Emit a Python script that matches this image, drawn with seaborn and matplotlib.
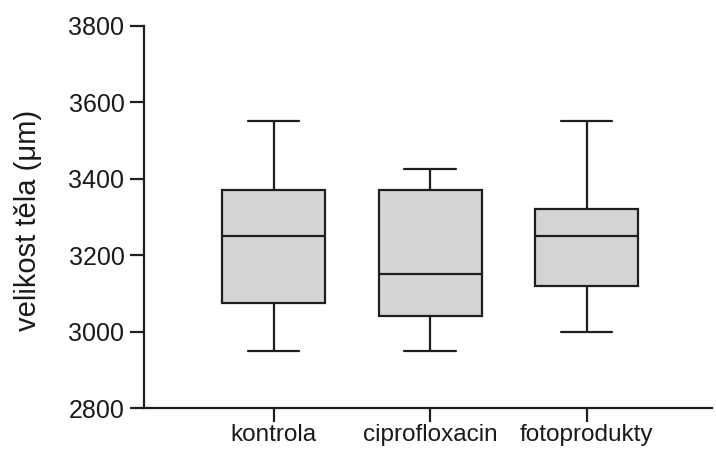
import matplotlib
matplotlib.use("Agg")
import matplotlib.pyplot as plt
import seaborn as sns
import pandas as pd

categories = ["kontrola", "ciprofloxacin", "fotoprodukty"]
# five-number summaries: min, Q1, median, Q3, max
kontrola = [2950, 3075, 3250, 3370, 3550]
ciprofloxacin = [2950, 3040, 3150, 3370, 3425]
fotoprodukty = [3000, 3120, 3250, 3320, 3550]
y_ticks = [2800, 3000, 3200, 3400, 3600, 3800]
y_label = "velikost těla (μm)"

df = pd.DataFrame({
    "group": [categories[0]] * len(kontrola) + [categories[1]] * len(ciprofloxacin) + [categories[2]] * len(fotoprodukty),
    "value": kontrola + ciprofloxacin + fotoprodukty,
})

sns.set_style("ticks")
plt.rcParams["font.family"] = ["Liberation Sans", "DejaVu Sans"]

fig = plt.figure(figsize=(7.16, 4.5), dpi=100)
ax = fig.add_axes([0.201, 0.0933, 0.793, 0.849])

line_col = "#1e1e1e"
sns.boxplot(data=df, x="group", y="value", order=categories, ax=ax,
            whis=(0, 100), width=0.657, color="#d4d4d4", saturation=1,
            linecolor=line_col, linewidth=1.6, fliersize=0)

ax.set_xlim(-0.83, 2.80)
ax.set_ylim(2800, 3800)
ax.set_yticks(y_ticks)
ax.set_xlabel("")
ax.set_ylabel(y_label, fontsize=21, color="#1a1a1a")
ax.yaxis.set_label_coords(-0.18, 0.49)
sns.despine(ax=ax)
for s in ["left", "bottom"]:
    ax.spines[s].set_linewidth(1.6)
    ax.spines[s].set_color(line_col)
ax.tick_params(axis="both", length=10, width=1.6, color=line_col,
               labelcolor="#1a1a1a")
ax.tick_params(axis="y", pad=4, labelsize=18)
ax.tick_params(axis="x", pad=1.5, labelsize=17.5)

fig.savefig("out.png", dpi=100)
